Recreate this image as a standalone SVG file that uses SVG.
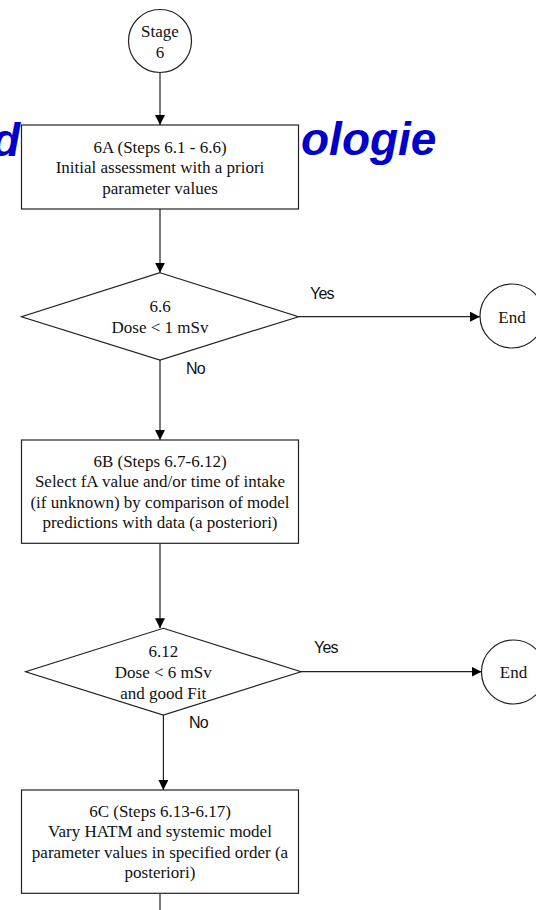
<svg xmlns="http://www.w3.org/2000/svg" width="536" height="910" viewBox="0 0 536 910">
<defs>
<style>
.bg{fill:#fff}
.title{font-family:"Liberation Sans",Arial,sans-serif;font-weight:bold;font-style:italic;font-size:46px;fill:#0000cc}
.shape{fill:#fff;stroke:#222;stroke-width:1.2}
.t{font-family:"Liberation Serif","Times New Roman",serif;font-size:17px;fill:#111;text-anchor:middle}
.lbl{font-family:"Liberation Sans",Arial,sans-serif;font-size:16px;fill:#111;letter-spacing:-0.8px}
.conn{fill:none;stroke:#222;stroke-width:1.2}
</style>
<marker id="arr" viewBox="0 0 10 10" refX="10" refY="5" markerWidth="10" markerHeight="10" markerUnits="userSpaceOnUse" orient="auto">
<path d="M0,0 L10,5 L0,10 Z" fill="#000"/>
</marker>
</defs>
<rect class="bg" x="0" y="0" width="536" height="910"/>
<g id="title">
<text class="title" x="-8" y="156">d</text>
<text class="title" x="301" y="155">ologie</text>
</g>
<g id="connectors">
<line class="conn" x1="160" y1="72.5" x2="160" y2="125" marker-end="url(#arr)"/>
<line class="conn" x1="160" y1="209" x2="160" y2="272.7" marker-end="url(#arr)"/>
<line class="conn" x1="298.5" y1="316.7" x2="480" y2="316.7" marker-end="url(#arr)"/>
<line class="conn" x1="160" y1="360" x2="160" y2="440" marker-end="url(#arr)"/>
<line class="conn" x1="160" y1="543.3" x2="160" y2="628.3" marker-end="url(#arr)"/>
<line class="conn" x1="301" y1="671.7" x2="481.5" y2="671.7" marker-end="url(#arr)"/>
<line class="conn" x1="163.4" y1="715" x2="163.4" y2="790" marker-end="url(#arr)"/>
<line class="conn" x1="160" y1="893.3" x2="160" y2="910"/>
<text class="lbl" x="310" y="299">Yes</text>
<text class="lbl" x="186" y="374">No</text>
<text class="lbl" x="314" y="653">Yes</text>
<text class="lbl" x="189" y="728">No</text>
</g>
<g id="stage6">
<circle class="shape" cx="160" cy="41" r="31.5"/>
<text class="t" x="160" y="37">Stage</text>
<text class="t" x="160" y="58">6</text>
</g>
<g id="box6A">
<rect class="shape" x="21.5" y="125" width="277" height="84"/>
<text class="t" x="160" y="152.5">6A (Steps 6.1 - 6.6)</text>
<text class="t" x="160" y="173">Initial assessment with a priori</text>
<text class="t" x="160" y="193.5">parameter values</text>
</g>
<g id="dec66">
<polygon class="shape" points="160,272.7 298.5,316.7 160,360 21.5,316.7"/>
<text class="t" x="160" y="312">6.6</text>
<text class="t" x="160" y="332.5">Dose &lt; 1 mSv</text>
</g>
<g id="end1">
<circle class="shape" cx="512" cy="316" r="32"/>
<text class="t" x="512" y="323">End</text>
</g>
<g id="box6B">
<rect class="shape" x="21.5" y="440" width="277" height="103.3"/>
<text class="t" x="160" y="466.7">6B (Steps 6.7-6.12)</text>
<text class="t" x="160" y="487">Select fA value and/or time of intake</text>
<text class="t" x="160" y="507.5">(if unknown) by comparison of model</text>
<text class="t" x="160" y="528">predictions with data (a posteriori)</text>
</g>
<g id="dec612">
<polygon class="shape" points="163.3,628.3 301,671.7 163.3,715 25.6,671.7"/>
<text class="t" x="163.3" y="657">6.12</text>
<text class="t" x="163.3" y="678">Dose &lt; 6 mSv</text>
<text class="t" x="163.3" y="698.5">and good Fit</text>
</g>
<g id="end2">
<circle class="shape" cx="513.5" cy="672" r="32"/>
<text class="t" x="513.5" y="678">End</text>
</g>
<g id="box6C">
<rect class="shape" x="21.5" y="790" width="277" height="103.3"/>
<text class="t" x="160" y="816.7">6C (Steps 6.13-6.17)</text>
<text class="t" x="160" y="837.3">Vary HATM and systemic model</text>
<text class="t" x="160" y="857.5">parameter values in specified order (a</text>
<text class="t" x="160" y="878">posteriori)</text>
</g>
</svg>
